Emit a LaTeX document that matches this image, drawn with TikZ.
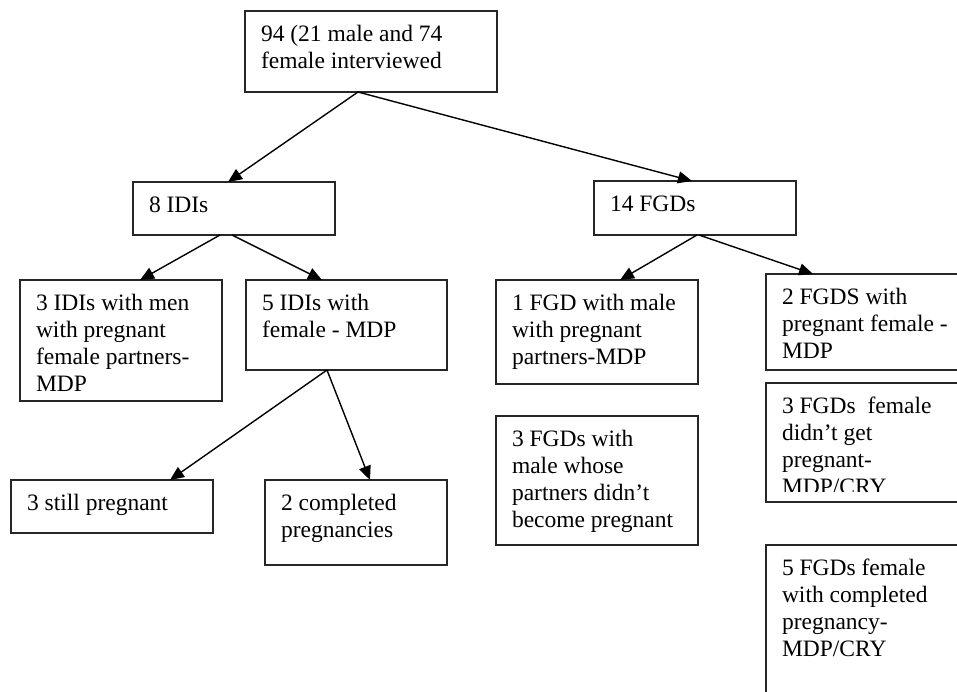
\documentclass[tikz,border=0pt]{standalone}
\usepackage{fontspec}
\setmainfont{Liberation Serif}
\usetikzlibrary{arrows.meta}
\tikzset{
  box/.style={draw=black!85, line width=1.4pt, inner sep=0pt, outer sep=0pt, anchor=north west, fill=none},
  txt/.style={anchor=north west, inner sep=0pt, outer sep=0pt, align=left,
    font=\fontsize{23.5}{27}\selectfont},
  arr/.style={draw=black, line width=1.4pt, -{Triangle[length=14pt,width=12pt]}}
}
\newcommand{\mybox}[6]{% name, left, top, right, bottom, text
  \node[box, minimum width=#4pt-#2pt, minimum height=#5pt-#3pt] (#1) at (#2,#3) {};
  \node[txt] (#1t) at ([xshift=16pt,yshift=-11pt]#1.north west) {\rule{0pt}{19pt}#6};
}
\begin{document}
\begin{tikzpicture}[x=1pt,y=-1pt]
\clip (0,0) rectangle (957,691);
\fill[white] (0,0) rectangle (957,691);
% boxes
\mybox{top}{245}{11}{497}{92}{94 (21 male and 74\\female interviewed}
\mybox{idi}{133}{182}{335}{235}{8 IDIs}
\mybox{fgd}{594}{181}{796}{235}{14 FGDs}
\mybox{idiA}{20}{280}{222}{401}{3 IDIs with men\\with pregnant\\female partners-\\MDP}
\mybox{idiB}{246}{280}{447}{370}{5 IDIs with\\female - MDP}
\mybox{still}{11}{480}{213}{533}{3 still pregnant}
\mybox{compl}{265}{480}{447}{565}{2 completed\\pregnancies}
\mybox{fgdA}{496}{280}{698}{384}{1 FGD with male\\with pregnant\\partners-MDP}
\mybox{fgdB}{496}{416}{698}{545}{3 FGDs with\\male whose\\partners didn’t\\become pregnant}
\mybox{fgdC}{766}{274}{975}{370}{2 FGDS with\\pregnant female -\\MDP}
\node[box, minimum width=209pt, minimum height=119pt] (fgdD) at (766,383) {};
\begin{scope}
\clip (fgdD.north west) rectangle ([yshift=11pt]fgdD.south east);
\node[txt] (fgdDt) at ([xshift=16pt,yshift=-11pt]fgdD.north west) {\rule{0pt}{19pt}3 FGDs\ \ female\\didn’t get\\pregnant-\\MDP/CRY};
\end{scope}
\mybox{fgdE}{766}{545}{975}{720}{5 FGDs female\\with completed\\pregnancy-\\MDP/CRY}
% connectors
\draw[arr] ([xshift=113pt]top.south west) -- ([xshift=95pt]idi.north west);
\draw[arr] ([xshift=113pt]top.south west) -- ([xshift=98pt]fgd.north west);
\draw[arr] ([xshift=87pt]idi.south west) -- ([xshift=120pt]idiA.north west);
\draw[arr] ([xshift=99pt]idi.south west) -- ([xshift=76pt]idiB.north west);
\draw[arr] ([xshift=81pt]idiB.south west) -- ([xshift=159pt]still.north west);
\draw[arr] ([xshift=81pt]idiB.south west) -- ([xshift=105pt]compl.north west);
\draw[arr] ([xshift=103pt]fgd.south west) -- ([xshift=124pt]fgdA.north west);
\draw[arr] ([xshift=105pt]fgd.south west) -- ([xshift=47pt]fgdC.north west);
\end{tikzpicture}
\end{document}
